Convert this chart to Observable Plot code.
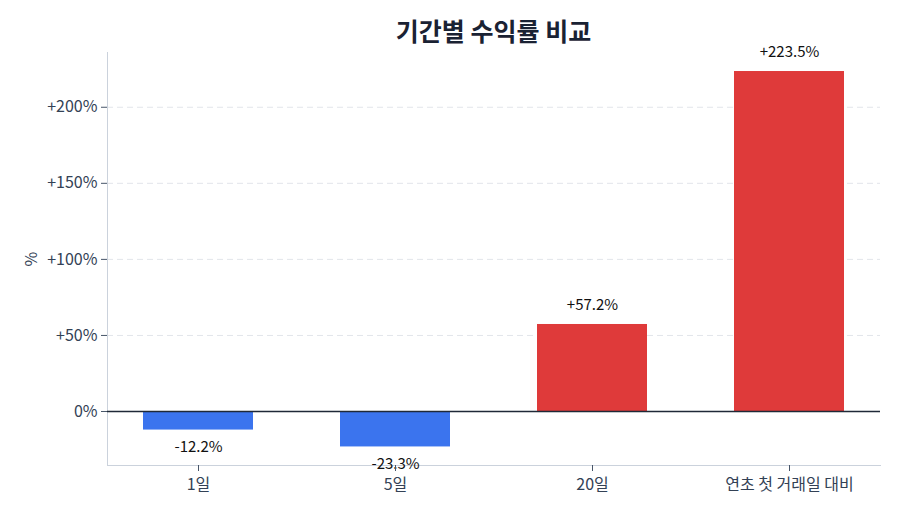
<!DOCTYPE html>
<html>
<head>
<meta charset="utf-8">
<script src="https://cdn.jsdelivr.net/npm/d3@7"></script>
<script src="https://cdn.jsdelivr.net/npm/@observablehq/plot@0.6"></script>
<style>
  body { margin: 0; background: #fff; font-family: "Noto Sans CJK KR", "Noto Sans", sans-serif; }
  #title { width: 900px; box-sizing: border-box; padding: 14px 20px 0 107px; height: 36px; line-height: 32px;
           text-align: center; font-size: 25px; font-weight: 700; color: #1a2233; overflow: visible; white-space: nowrap; }
</style>
</head>
<body>
<div id="title">기간별 수익률 비교</div>
<div id="chart"></div>
<script>
const periods = ["1일", "5일", "20일", "연초 첫 거래일 대비"];
const returns = [-12.2, -23.3, 57.2, 223.5];
const labels = ["-12.2%", "-23.3%", "+57.2%", "+223.5%"];
const yTicks = [0, 50, 100, 150, 200];
const yDomain = [-35.5, 236];

const data = periods.map((p, i) => ({ period: p, value: returns[i], label: labels[i] }));
const fmt = d => d === 0 ? "0%" : (d > 0 ? "+" : "") + d + "%";

const chart = Plot.plot({
  width: 900,
  height: 478,
  marginLeft: 107,
  marginRight: 20,
  marginTop: 16,
  marginBottom: 49,
  style: { fontFamily: "'Noto Sans CJK KR', 'Noto Sans', sans-serif", fontSize: "16px", color: "#334155", background: "#fff", overflow: "visible" },
  x: { domain: periods, paddingInner: 0.4425, paddingOuter: 0.18, label: null },
  y: { domain: yDomain, label: null },
  marks: [
    Plot.ruleY(yTicks.filter(d => d !== 0), { stroke: "#e2e5ea", strokeDasharray: "6,4", strokeWidth: 1 }),
    Plot.frame({ anchor: "left", stroke: "#cbd2dc" }),
    Plot.frame({ anchor: "bottom", stroke: "#cbd2dc" }),
    Plot.barY(data, { x: "period", y: "value", fill: d => d.value < 0 ? "#3b74ee" : "#df3a3a" }),
    Plot.ruleY([0], { stroke: "#1f2937", strokeWidth: 1.5 }),
    Plot.text(data.filter(d => d.value >= 0), { x: "period", y: "value", text: "label", dy: -19, fontSize: 15, fill: "#111" }),
    Plot.text(data.filter(d => d.value < 0), { x: "period", y: "value", text: "label", dy: 17, fontSize: 15, fill: "#111" }),
    Plot.axisY({ ticks: yTicks, tickFormat: fmt, tickSize: 6, tickPadding: 4, fontSize: 16, stroke: "#475569",
                 label: "%", labelAnchor: "center", labelOffset: 82, labelArrow: "none" }),
    Plot.axisX({ tickSize: 6, tickPadding: 7, fontSize: 16, stroke: "#475569", label: null })
  ]
});
document.getElementById("chart").appendChild(chart);
</script>
</body>
</html>
